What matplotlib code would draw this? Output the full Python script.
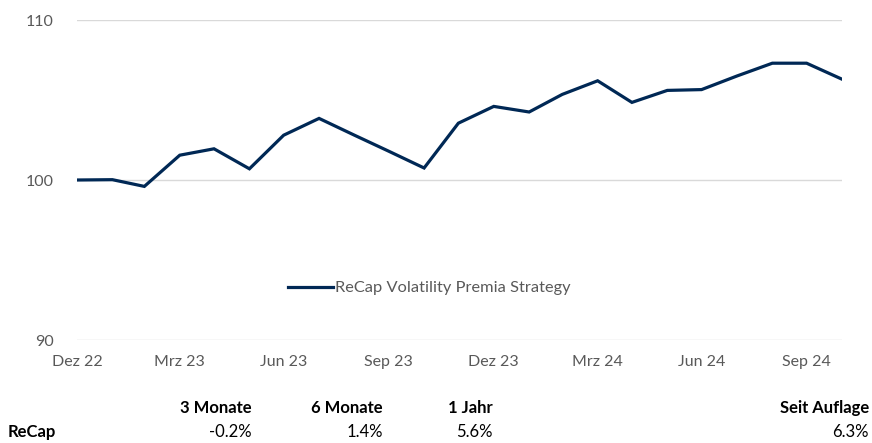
import matplotlib
matplotlib.use("Agg")
import matplotlib.pyplot as plt
import pandas as pd

plt.rcParams['font.family'] = ['Lato', 'DejaVu Sans']

# monthly index values, month ends Dec 2022 .. Oct 2024
dates = pd.date_range("2022-12-31", "2024-10-31", freq="ME")
values = [100.0, 100.02, 99.6, 101.55, 101.95, 100.7, 102.8, 103.85, 102.8, 101.8,
          100.75, 103.55, 104.6, 104.25, 105.35, 106.2, 104.85, 105.6, 105.65,
          106.5, 107.3, 107.3, 106.3]
series_name = "ReCap Volatility Premia Strategy"

month_de = {1: "Jan", 2: "Feb", 3: "Mrz", 4: "Apr", 5: "Mai", 6: "Jun",
            7: "Jul", 8: "Aug", 9: "Sep", 10: "Okt", 11: "Nov", 12: "Dez"}

# performance table
perf_headers = ["3 Monate", "6 Monate", "1 Jahr", "Seit Auflage"]
perf_values = ["-0.2%", "1.4%", "5.6%", "6.3%"]
row_label = "ReCap"

navy = "#002855"
grey_txt = "#595959"

fig = plt.figure(figsize=(8.72, 4.43), dpi=100)
ax = fig.add_axes([77 / 872, 1 - 340 / 443, 765 / 872, 320 / 443])

ax.plot(dates, values, color=navy, lw=2.3, solid_joinstyle="miter",
        label=series_name)

ax.set_xlim(dates[0], dates[-1])
ax.set_ylim(90, 110)
ax.set_yticks([90, 100, 110])
ax.grid(axis="y", color="#d9d9d9", lw=1)
ax.set_axisbelow(True)

tick_dates = [d for d in dates if d.month in (3, 6, 9, 12)]
ax.set_xticks(tick_dates)
ax.set_xticklabels([f"{month_de[d.month]} {d.year % 100}" for d in tick_dates])

for s in ax.spines.values():
    s.set_visible(False)
ax.tick_params(axis="both", length=0, labelsize=11.5, labelcolor=grey_txt)
ax.tick_params(axis="y", pad=17)
ax.tick_params(axis="x", pad=11)

leg = ax.legend(loc="center", bbox_to_anchor=(0.461, 0.1625), frameon=False,
                fontsize=11.8, handlelength=2.7, handletextpad=0.15)
for t in leg.get_texts():
    t.set_color(grey_txt)

# table below the chart
col_right = [252, 383, 493, 869]
for x, h, v in zip(col_right, perf_headers, perf_values):
    fig.text(x / 872, 1 - 408 / 443, h, ha="right", va="center",
             fontsize=12, fontweight="bold", color="black")
    fig.text(x / 872, 1 - 432 / 443, v, ha="right", va="center",
             fontsize=12, color="black")
fig.text(8 / 872, 1 - 432 / 443, row_label, ha="left", va="center",
         fontsize=12, fontweight="bold", color="black")

fig.savefig("out.png", dpi=100)
